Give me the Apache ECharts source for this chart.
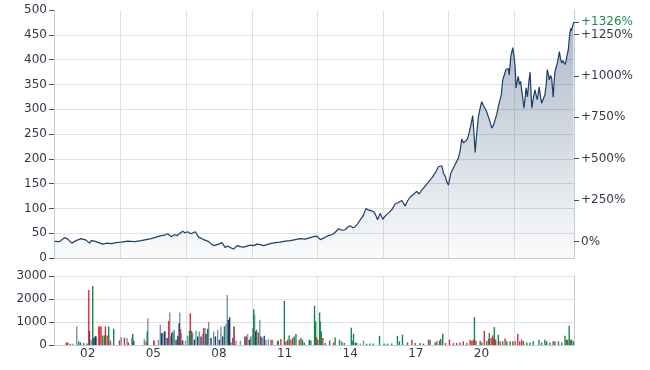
<!DOCTYPE html>
<html><head><meta charset="utf-8">
<script src="https://cdn.jsdelivr.net/npm/echarts@6/dist/echarts.min.js"></script>
<style>html,body{margin:0;padding:0;background:#fff}#c{width:650px;height:370px}</style>
</head><body><div id="c"></div>
<script>
// ---- data (decimal years) ----
const priceDates = [2000.48,2000.56,2000.71,2000.94,2001.09,2001.27,2001.47,2001.70,2001.93,2002.08,2002.16,2002.31,2002.50,2002.69,2002.88,2003.07,2003.30,2003.53,2003.83,2004.14,2004.44,2004.67,2004.90,2005.13,2005.36,2005.51,2005.66,2005.81,2005.96,2006.08,2006.19,2006.34,2006.45,2006.57,2006.72,2006.82,2006.92,2007.07,2007.18,2007.30,2007.42,2007.53,2007.65,2007.76,2007.99,2008.14,2008.29,2008.40,2008.52,2008.67,2008.75,2008.83,2008.98,2009.13,2009.28,2009.43,2009.58,2009.74,2009.89,2010.04,2010.20,2010.35,2010.58,2010.80,2011.03,2011.26,2011.49,2011.72,2011.95,2012.17,2012.33,2012.48,2012.63,2012.78,2012.94,2013.09,2013.24,2013.36,2013.47,2013.62,2013.77,2013.88,2014.00,2014.12,2014.23,2014.35,2014.46,2014.54,2014.61,2014.72,2014.82,2014.91,2015.00,2015.10,2015.18,2015.25,2015.37,2015.49,2015.58,2015.67,2015.78,2015.90,2016.05,2016.20,2016.36,2016.44,2016.51,2016.62,2016.74,2016.88,2017.04,2017.16,2017.25,2017.35,2017.50,2017.65,2017.74,2017.83,2017.93,2018.03,2018.10,2018.19,2018.26,2018.34,2018.41,2018.49,2018.60,2018.70,2018.79,2018.94,2019.02,2019.10,2019.18,2019.25,2019.33,2019.40,2019.50,2019.60,2019.66,2019.71,2019.78,2019.86,2019.93,2020.01,2020.08,2020.16,2020.23,2020.31,2020.39,2020.47,2020.55,2020.62,2020.70,2020.77,2020.85,2020.91,2020.97,2021.05,2021.12,2021.23,2021.27,2021.34,2021.43,2021.49,2021.54,2021.58,2021.63,2021.68,2021.74,2021.79,2021.84,2021.89,2021.94,2021.99,2022.04,2022.10,2022.16,2022.22,2022.26,2022.30,2022.38,2022.45,2022.50,2022.55,2022.60,2022.64,2022.70,2022.75,2022.82,2022.90,2022.96,2023.01,2023.06,2023.10,2023.16,2023.21,2023.25,2023.28,2023.32,2023.36,2023.42,2023.47,2023.52,2023.56,2023.62,2023.67,2023.72,2023.77,2023.82,2023.86,2023.92,2023.97,2024.01,2024.04,2024.08,2024.11,2024.14,2024.17,2024.20,2024.23];
const priceValues = [33.38,35,33,41,38,30,35,39,36,30,35,34,31,28,30,29,31,32,34,33,35,37,39,42,45,46,49,43,47,45,49,54,51,53,49,51,53,42,40,37,35,33,28,25,28,31,21,24,21,18,22,25,23,22,24,26,25,28,27,25,27,29,31,32,34,35,37,39,38,41,43,44,37,40,44,46,49,54,59,56,57,62,65,61,63,70,77,82,87,100,97,98,95,92,85,77,90,78,84,87,92,97,109,112,116,110,105,115,123,128,134,129,136,141,149,157,162,168,175,184,180,186,171,165,154,147,171,180,188,201,215,240,232,228,238,246,265,287,250,213,250,285,300,315,308,302,296,292,275,262,268,272,290,305,302,330,359,370,380,382,369,406,424,406,385,343,355,366,350,356,338,322,302,320,343,325,352,375,340,302,325,339,328,319,333,345,325,312,320,329,350,380,370,359,368,362,340,324,355,376,385,394,405,416,400,393,398,400,390,396,410,420,440,453,463,458,456,468,473,476];

const volGreen = [[2001.21,56],[2001.59,157],[2001.67,114],[2001.82,85],[2001.97,60],[2002.23,2567],[2002.69,417],[2002.77,417],[2002.96,807],[2003.19,706],[2004.06,489],[2004.72,590],[2005.90,590],[2006.65,619],[2006.75,619],[2007.48,706],[2008.25,807],[2008.55,114],[2009.46,374],[2009.59,1558],[2009.72,662],[2010.71,186],[2010.99,1918],[2011.21,417],[2011.44,374],[2011.52,475],[2011.75,302],[2011.82,229],[2011.90,114],[2012.13,229],[2012.20,200],[2012.37,1700],[2012.42,1023],[2012.60,1413],[2012.63,1023],[2012.68,590],[2012.86,85],[2013.06,200],[2013.31,330],[2013.51,230],[2013.62,157],[2013.73,85],[2014.05,750],[2014.15,490],[2014.23,110],[2014.30,85],[2014.75,60],[2014.90,60],[2015.05,60],[2015.34,400],[2015.55,60],[2015.70,60],[2015.90,60],[2016.16,400],[2016.25,160],[2016.39,450],[2016.62,110],[2016.97,85],[2017.20,85],[2017.35,60],[2017.65,230],[2017.88,110],[2017.96,160],[2018.14,260],[2018.23,490],[2019.02,110],[2019.68,1210],[2019.94,190],[2020.24,160],[2020.36,520],[2020.59,780],[2020.77,450],[2020.97,160],[2021.16,160],[2021.31,160],[2021.54,160],[2021.92,160],[2022.07,110],[2022.22,110],[2022.37,160],[2022.63,230],[2022.75,110],[2022.90,230],[2022.98,160],[2023.13,110],[2023.28,160],[2023.52,160],[2023.67,110],[2023.82,400],[2023.94,230],[2024.01,840],[2024.12,230],[2024.20,160]];
const volRed = [[2001.02,114],[2001.09,114],[2002.05,2394],[2002.51,807],[2002.55,807],[2002.61,807],[2002.81,807],[2002.89,417],[2003.04,200],[2003.45,200],[2003.68,316],[2003.86,114],[2004.67,157],[2005.02,200],[2005.70,1052],[2006.24,691],[2006.69,1384],[2007.30,734],[2008.63,302],[2009.25,374],[2009.80,547],[2010.38,229],[2010.68,186],[2010.83,258],[2011.06,157],[2011.14,229],[2011.29,229],[2011.37,302],[2011.67,229],[2012.46,345],[2012.52,230],[2012.75,300],[2013.24,110],[2014.09,190],[2016.82,230],[2017.58,230],[2018.08,190],[2018.36,85],[2018.54,230],[2018.72,85],[2018.87,85],[2019.17,160],[2019.33,85],[2019.48,230],[2019.56,190],[2019.63,230],[2019.75,190],[2020.02,110],[2020.13,620],[2020.32,260],[2020.44,300],[2020.51,420],[2020.54,300],[2020.65,230],[2020.85,160],[2021.08,280],[2021.43,160],[2021.66,490],[2021.75,160],[2021.84,230],[2023.36,160],[2023.89,230],[2024.08,230]];
const volSteel = [[2001.32,56],[2001.50,807],[2002.16,229],[2002.31,374],[2002.40,374],[2003.53,345],[2003.80,302],[2004.01,302],[2004.59,258],[2004.75,1167],[2005.05,186],[2005.23,229],[2005.32,879],[2005.43,518],[2005.55,590],[2005.75,1413],[2005.78,374],[2005.96,662],[2006.21,1413],[2006.27,518],[2006.47,186],[2006.57,403],[2006.80,518],[2006.95,619],[2007.10,590],[2007.26,475],[2007.36,734],[2007.53,1009],[2007.76,590],[2007.94,662],[2008.09,807],[2008.32,908],[2008.38,2178],[2008.78,200],[2008.98,186],[2009.31,475],[2009.54,734],[2009.63,1312],[2009.87,1095],[2009.99,302],[2010.15,229],[2010.26,258],[2010.45,229],[2014.46,60],[2014.61,190]];
const volNavy = [[2002.08,619],[2002.28,300],[2002.36,374],[2004.11,186],[2005.38,518],[2005.51,590],[2005.63,302],[2005.84,518],[2006.04,229],[2006.12,403],[2006.18,951],[2006.34,200],[2006.88,229],[2007.03,374],[2007.18,374],[2007.41,475],[2007.64,302],[2007.84,374],[2008.02,229],[2008.17,374],[2008.43,1095],[2008.49,1211],[2009.19,374],[2009.39,229],[2009.68,590],[2009.92,374],[2010.07,403]];
const volMaroon = [[2008.69,807]];

const priceTicks = [0,50,100,150,200,250,300,350,400,450,500];
const priceGridLines = [50,100,150,200,250,300,350,400,450];
const pctTicks = [0,250,500,750,1000,1250];
const volTicks = [0,1000,2000,3000];
const yearLabels = [2002,2005,2008,2011,2014,2017,2020];
const yearGrid = [2003.5,2006.5,2009.5,2012.5,2015.5,2018.5,2021.5];
const xMin = 2000.46, xMax = 2024.23;

// ---- derived ----
const p0 = priceValues[0];
const lastPrice = priceValues[priceValues.length - 1];
const pctLast = Math.round((lastPrice / p0 - 1) * 100);
const pctMin = -100, pctMax = (500 / p0 - 1) * 100;

const FONT = 'DejaVu Sans';
const TXT = '#343a48';
const GRID = '#dde0e6';
const AXIS = '#c6cbd3';
const TICK = '#4a4f5a';

const chart = echarts.init(document.getElementById('c'), null, {renderer: 'canvas'});
const xBase = (gi) => ({
  gridIndex: gi, type: 'value', min: xMin, max: xMax,
  axisLine: {show: true, lineStyle: {color: AXIS}},
  axisTick: {show: false, customValues: yearGrid},
  splitLine: {show: true, lineStyle: {color: GRID, width: 1}},
});
const lbl = {color: TXT, fontFamily: FONT, fontSize: 12};

chart.setOption({
  animation: false,
  grid: [
    {left: 54, top: 10, width: 520, height: 248},
    {left: 54, top: 276, width: 520, height: 69}
  ],
  xAxis: [
    Object.assign(xBase(0), {axisLabel: {show: false}}),
    Object.assign(xBase(1), {axisLabel: Object.assign({}, lbl, {customValues: yearLabels, margin: 3,
      formatter: v => String(Math.round(v) % 100).padStart(2, '0')})})
  ],
  yAxis: [
    {gridIndex: 0, type: 'value', min: 0, max: 500, position: 'left',
     axisLine: {show: false}, axisLabel: {show: false},
     axisTick: {show: false, customValues: priceGridLines},
     splitLine: {show: true, lineStyle: {color: GRID}}},
    {gridIndex: 0, type: 'value', min: 0, max: 500, position: 'left',
     axisLine: {show: true, lineStyle: {color: AXIS}},
     axisTick: {show: true, length: 5, customValues: priceTicks, lineStyle: {color: TICK}},
     axisLabel: Object.assign({}, lbl, {customValues: priceTicks, margin: 7, formatter: v => String(v)}),
     splitLine: {show: false}},
    {gridIndex: 0, type: 'value', min: pctMin, max: pctMax, position: 'right',
     axisLine: {show: true, lineStyle: {color: AXIS}},
     axisTick: {show: true, length: 5, customValues: pctTicks, lineStyle: {color: TICK}},
     axisLabel: Object.assign({}, lbl, {customValues: pctTicks, margin: 7,
       formatter: v => (v === 0 ? '0%' : '+' + v + '%')}),
     splitLine: {show: false}},
    {gridIndex: 0, type: 'value', min: pctMin, max: pctMax, position: 'right',
     axisLine: {show: false},
     axisTick: {show: true, length: 5, customValues: [pctLast], lineStyle: {color: TICK}},
     axisLabel: Object.assign({}, lbl, {color: '#1e8a4f', customValues: [pctLast], margin: 7,
       formatter: v => '+' + v + '%'}),
     splitLine: {show: false}},
    {gridIndex: 1, type: 'value', min: 0, max: 3000, interval: 1000, position: 'left',
     axisLine: {show: true, lineStyle: {color: AXIS}},
     axisTick: {show: true, length: 5, customValues: volTicks, lineStyle: {color: TICK}},
     axisLabel: Object.assign({}, lbl, {customValues: volTicks, margin: 7, formatter: v => String(v)}),
     splitLine: {show: true, lineStyle: {color: GRID}}},
    {gridIndex: 1, type: 'value', min: 0, max: 3000, position: 'right',
     axisLine: {show: true, lineStyle: {color: AXIS}},
     axisTick: {show: false}, axisLabel: {show: false}, splitLine: {show: false}}
  ],
  series: [
    {type: 'line', xAxisIndex: 0, yAxisIndex: 0, showSymbol: false, silent: true,
     data: priceDates.map((d, i) => [d, priceValues[i]]),
     lineStyle: {color: '#1d3e6b', width: 1.2},
     areaStyle: {color: new echarts.graphic.LinearGradient(0, 0, 0, 1, [
       {offset: 0, color: 'rgba(40,72,112,0.55)'},
       {offset: 1, color: 'rgba(40,72,112,0.03)'}
     ])}},
    ...[[volSteel, '#7b91ab'], [volNavy, '#1f3c5f'], [volMaroon, '#6e2236'], [volRed, '#e2283c'], [volGreen, '#13884b']]
      .map(([d, c]) => ({type: 'bar', xAxisIndex: 1, yAxisIndex: 4, data: d, barWidth: 1.4, barGap: '-100%',
        silent: true, itemStyle: {color: c}}))
  ]
});
</script></body></html>
